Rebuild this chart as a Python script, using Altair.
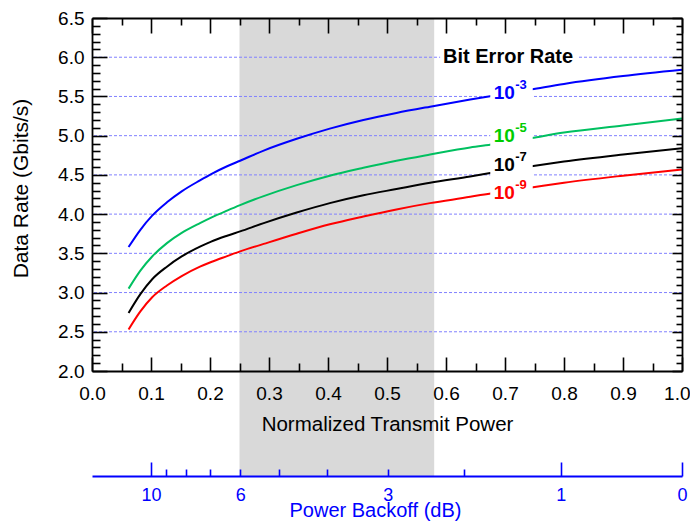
import altair as alt
import pandas as pd

# ---------------- data ----------------
power = [0.062, 0.082, 0.102, 0.127, 0.152, 0.183, 0.202, 0.229, 0.251, 0.291,
         0.347, 0.403, 0.460, 0.516, 0.573, 0.641, 0.680, 0.745, 0.800, 0.900, 1.000]
rate_ber3 = [3.58, 3.80, 3.98, 4.15, 4.29, 4.43, 4.51, 4.61, 4.68, 4.81,
             4.96, 5.09, 5.20, 5.29, 5.37, 5.46, 5.51, 5.59, 5.66, 5.76, 5.84]
rate_ber5 = [3.05, 3.28, 3.46, 3.63, 3.76, 3.885, 3.955, 4.045, 4.115, 4.23,
             4.37, 4.49, 4.59, 4.68, 4.76, 4.85, 4.89, 4.97, 5.04, 5.13, 5.22]
rate_ber7 = [2.74, 2.98, 3.17, 3.33, 3.46, 3.585, 3.65, 3.725, 3.78, 3.885,
             4.02, 4.14, 4.24, 4.32, 4.40, 4.48, 4.53, 4.61, 4.67, 4.76, 4.84]
rate_ber9 = [2.53, 2.76, 2.94, 3.09, 3.21, 3.33, 3.39, 3.465, 3.525, 3.62,
             3.75, 3.87, 3.97, 4.06, 4.14, 4.22, 4.27, 4.34, 4.40, 4.49, 4.57]

ber_keys = ["1e-3", "1e-5", "1e-7", "1e-9"]
line_colors = ["#0000FF", "#00C060", "#000000", "#FF0000"]
label_colors = ["#0000FF", "#00CC00", "#000000", "#FF0000"]
label_base = ["10", "10", "10", "10"]
label_exp = ["-3", "-5", "-7", "-9"]
label_power = [0.681, 0.681, 0.681, 0.681]
label_rate = [5.545, 4.99, 4.63, 4.27]

legend_title = ["Bit Error Rate"]
legend_title_power = [0.595]
legend_title_rate = [6.0]

band_start = [0.25]
band_end = [0.58]

grid_rates = [2.5, 3.0, 3.5, 4.0, 4.5, 5.0, 5.5, 6.0]
x_tick_values = [round(0.05 * i, 2) for i in range(21)]
y_tick_values = [round(2.0 + 0.1 * i, 1) for i in range(46)]

backoff_db = [10, 9, 8, 7, 6, 5, 4, 3, 2, 1, 0]
backoff_labeled_db = [10, 6, 3, 1, 0]
backoff_long_db = [10, 1, 0]
backoff_pos = [round(10 ** (-d / 10), 5) for d in backoff_db]

# ---------------- tables ----------------
curves = pd.DataFrame({
    "power": power * 4,
    "rate": rate_ber3 + rate_ber5 + rate_ber7 + rate_ber9,
    "ber": sum([[k] * len(power) for k in ber_keys], []),
})
labels = pd.DataFrame({
    "power": label_power, "rate": label_rate, "base": label_base,
    "exp": label_exp, "color": label_colors,
})
legend_df = pd.DataFrame({"power": legend_title_power, "rate": legend_title_rate,
                          "text": legend_title})
band_df = pd.DataFrame({"start": band_start, "end": band_end})
grid_df = pd.DataFrame({"rate": grid_rates})

# ---------------- layout / style ----------------
FONT = "Liberation Sans"
PLOT_W, PLOT_H = 590, 353
BACKOFF_OFFSET = 105

xs = alt.Scale(domain=[0, 1], nice=False, zero=False)
ys = alt.Scale(domain=[2, 6.5], nice=False, zero=False)

MAJ_X = "abs(datum.value*10 - round(datum.value*10)) < 0.001"
MAJ_Y = "abs(datum.value*2 - round(datum.value*2)) < 0.001"
DB = "abs(round(-10*log(datum.value)/LN10))"

base_axis = dict(labelFont=FONT, labelFontSize=19, labelColor="black",
                 titleFont=FONT, titleFontSize=20.5, titleFontWeight="normal",
                 titleColor="black", domainColor="black", domainWidth=1.8,
                 tickColor="black", tickWidth=1.6, grid=False, zindex=1,
                 labelOverlap=False, labelFlush=False)


def ax(**kw):
    d = dict(base_axis)
    d.update(kw)
    return alt.Axis(**d)


bottom_axis = ax(orient="bottom", values=x_tick_values, title="Normalized Transmit Power",
                 labelExpr=f"({MAJ_X}) ? format(datum.value, '.1f') : ''",
                 labelAlign={"condition": {"test": "datum.value >= 0.999", "value": "right"},
                             "value": "center"},
                 labelOffset=alt.ExprRef(expr="(datum.value >= 0.999 ? 8 : 0)"),
                 tickSize=alt.ExprRef(expr=f"(({MAJ_X}) ? -14 : -8)"),
                 labelPadding=alt.ExprRef(expr=f"(({MAJ_X}) ? 27 : 21)"),
                 titlePadding=11)
top_axis = ax(orient="top", values=x_tick_values, title=None, labels=False,
              tickSize=alt.ExprRef(expr=f"(({MAJ_X}) ? -15 : -7)"))
left_axis = ax(orient="left", values=y_tick_values, title="Data Rate (Gbits/s)",
               titleFontSize=21, titleY=170,
               labelExpr=f"({MAJ_Y}) ? format(datum.value, '.1f') : ''",
               tickSize=alt.ExprRef(expr=f"(({MAJ_Y}) ? -15 : -8)"),
               labelPadding=alt.ExprRef(expr=f"(({MAJ_Y}) ? 23 : 16)"),
               titlePadding=26)
right_axis = ax(orient="right", values=y_tick_values, title=None, labels=False,
                tickSize=alt.ExprRef(expr=f"(({MAJ_Y}) ? -10 : -6)"))
backoff_axis = ax(orient="bottom", offset=BACKOFF_OFFSET, values=backoff_pos,
                  title="Power Backoff (dB)", titleX=283, titleFontSize=20,
                  labelFontSize=18,
                  labelExpr=f"indexof({backoff_labeled_db}, {DB}) >= 0 ? '' + {DB} : ''",
                  tickSize=alt.ExprRef(expr=f"(indexof({backoff_long_db}, {DB}) >= 0 ? -14 : -7)"),
                  labelPadding=alt.ExprRef(expr=f"(indexof({backoff_long_db}, {DB}) >= 0 ? 24 : 17)"),
                  domainColor="#0000FF", tickColor="#0000FF", labelColor="#0000FF",
                  titleColor="#0000FF", titlePadding=-4)

# ---------------- layers ----------------
band = alt.Chart(band_df).mark_rect(color="#D9D9D9").encode(
    x=alt.X("start:Q", scale=xs, axis=backoff_axis),
    x2="end:Q",
    y=alt.value(0),
    y2=alt.value(PLOT_H + BACKOFF_OFFSET),
)

grid = alt.Chart(grid_df).mark_rule(color="#8080FF", strokeWidth=1, strokeDash=[3, 2]).encode(
    y=alt.Y("rate:Q", scale=ys, axis=left_axis),
)

lines = alt.Chart(curves).mark_line(strokeWidth=2, interpolate="monotone").encode(
    x=alt.X("power:Q", scale=xs, axis=bottom_axis),
    y=alt.Y("rate:Q", scale=ys, axis=right_axis),
    color=alt.Color("ber:N", scale=alt.Scale(domain=ber_keys, range=line_colors), legend=None),
    detail="ber:N",
)

boxes = alt.Chart(labels).transform_calculate(
    x_lo="datum.power - 0.006", x_hi="datum.power + 0.066",
    y_lo="datum.rate - 0.17", y_hi="datum.rate + 0.21",
).mark_rect(color="white").encode(
    x=alt.X("x_lo:Q", scale=xs, axis=top_axis),
    x2="x_hi:Q",
    y=alt.Y("y_lo:Q", scale=ys, axis=None),
    y2="y_hi:Q",
)

title_box = alt.Chart(legend_df).transform_calculate(
    x_lo="datum.power - 0.005", x_hi="datum.power + 0.23",
    y_lo="datum.rate - 0.12", y_hi="datum.rate + 0.13",
).mark_rect(color="white").encode(
    x=alt.X("x_lo:Q", scale=xs, axis=None),
    x2="x_hi:Q",
    y=alt.Y("y_lo:Q", scale=ys, axis=None),
    y2="y_hi:Q",
)

base_txt = alt.Chart(labels).mark_text(align="left", baseline="middle", font=FONT,
                                      fontSize=19, fontWeight="bold").encode(
    x=alt.X("power:Q", scale=xs, axis=None),
    y=alt.Y("rate:Q", scale=ys, axis=None),
    text="base:N",
    color=alt.Color("color:N", scale=None),
)

sup_txt = alt.Chart(labels).mark_text(align="left", baseline="middle", font=FONT,
                                     fontSize=13, fontWeight="bold", dx=21.5, dy=-8).encode(
    x=alt.X("power:Q", scale=xs, axis=None),
    y=alt.Y("rate:Q", scale=ys, axis=None),
    text="exp:N",
    color=alt.Color("color:N", scale=None),
)

title_txt = alt.Chart(legend_df).mark_text(align="left", baseline="middle", font=FONT,
                                          fontSize=20, fontWeight="bold", color="black").encode(
    x=alt.X("power:Q", scale=xs, axis=None),
    y=alt.Y("rate:Q", scale=ys, axis=None),
    text="text:N",
)

chart = alt.layer(
    band, grid, lines, boxes, title_box, base_txt, sup_txt, title_txt
).resolve_scale(
    x="independent", y="independent"
).properties(
    width=PLOT_W, height=PLOT_H,
    autosize=alt.AutoSizeParams(type="none"),
    padding={"left": 84, "top": 10, "right": 8, "bottom": 152},
).configure_view(stroke=None)

chart.save("out.html", embed_options={"renderer": "svg", "actions": False})
